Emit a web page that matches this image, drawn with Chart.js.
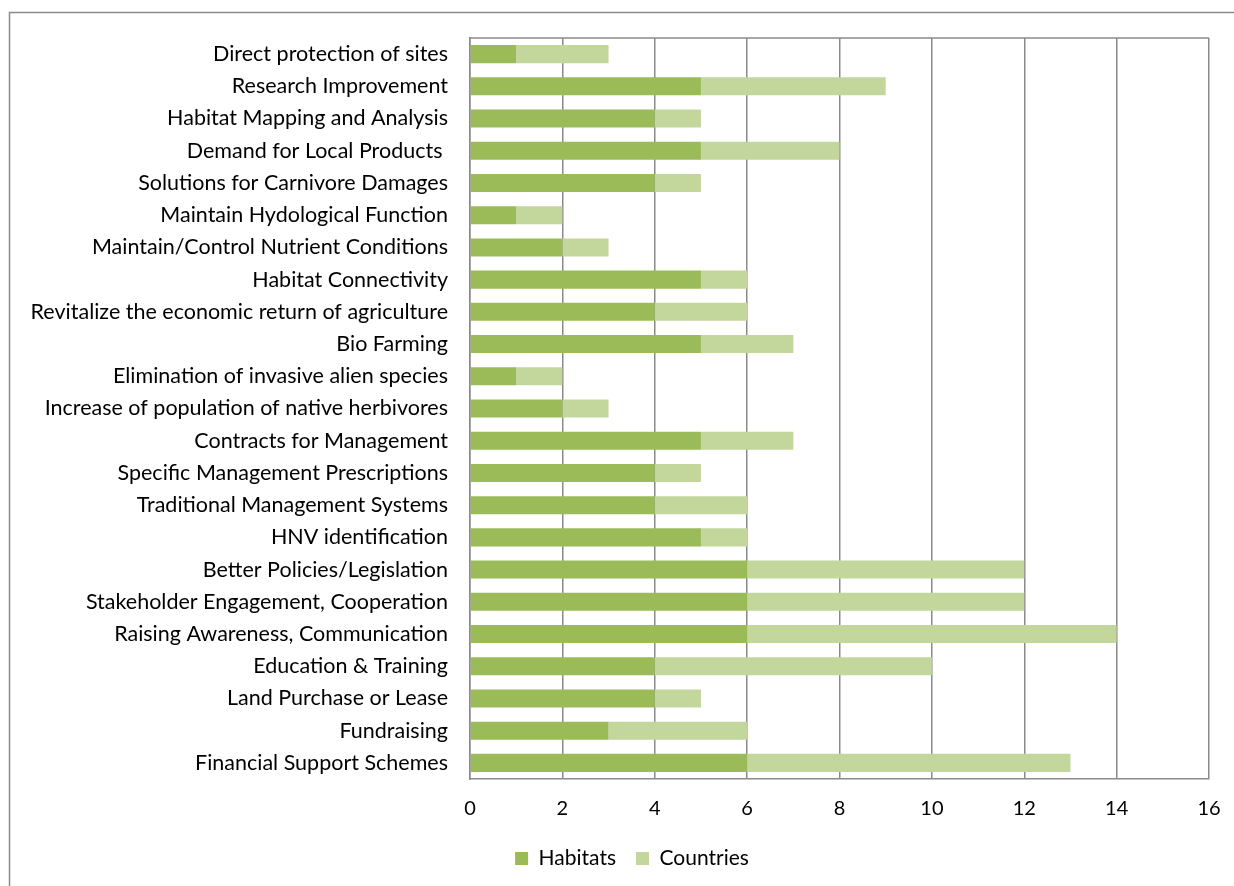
<!DOCTYPE html>
<html>
<head>
<meta charset="utf-8">
<script src="https://cdn.jsdelivr.net/npm/chart.js@4.4.0/dist/chart.umd.min.js"></script>
<style>
  html, body { margin: 0; padding: 0; background: #ffffff; }
  #wrap { position: relative; width: 1234px; height: 886px; }
  canvas { display: block; }
</style>
</head>
<body>
<div id="wrap"><canvas id="c" width="1234" height="886"></canvas></div>
<script>
// Measures (category axis, top to bottom)
const categories = [
  'Direct protection of sites',
  'Research Improvement',
  'Habitat Mapping and Analysis',
  'Demand for Local Products ',
  'Solutions for Carnivore Damages',
  'Maintain Hydological Function',
  'Maintain/Control Nutrient Conditions',
  'Habitat Connectivity',
  'Revitalize the economic return of agriculture',
  'Bio Farming',
  'Elimination of invasive alien species',
  'Increase of population of native herbivores',
  'Contracts for Management',
  'Specific Management Prescriptions',
  'Traditional Management Systems',
  'HNV identification',
  'Better Policies/Legislation',
  'Stakeholder Engagement, Cooperation',
  'Raising Awareness, Communication',
  'Education & Training',
  'Land Purchase or Lease',
  'Fundraising',
  'Financial Support Schemes'
];

// Number of habitats addressing each measure
const habitats = [1, 5, 4, 5, 4, 1, 2, 5, 4, 5, 1, 2, 5, 4, 4, 5, 6, 6, 6, 4, 4, 3, 6];

// Number of countries applying each measure (stacked after habitats)
const countries = [2, 4, 1, 3, 1, 1, 1, 1, 2, 2, 1, 1, 2, 1, 2, 1, 6, 6, 8, 6, 1, 3, 7];

// Value axis ticks
const xMin = 0;
const xMax = 16;
const xStep = 2;

const seriesNames = ['Habitats', 'Countries'];
const seriesColors = ['#9BBB59', '#C3D69B'];

const FONT = 'Lato, "Open Sans", sans-serif';
const GRID = '#8a8a8a';

// Outer frame of the chart and top edge of the plot area
const framePlugin = {
  id: 'frames',
  afterLayout(chart) {
    // legend sits a little right of the canvas centre
    const dx = 632 - (chart.legend.left + chart.legend.right) / 2;
    chart.legend.left += dx;
    chart.legend.right += dx;
  },
  beforeDraw(chart) {
    const ctx = chart.ctx;
    ctx.save();
    ctx.strokeStyle = '#8a8a8a';
    ctx.lineWidth = 1.5;
    ctx.beginPath();
    ctx.moveTo(9.5, 900);
    ctx.lineTo(9.5, 12.5);
    ctx.lineTo(1240, 12.5);
    ctx.stroke();
    ctx.restore();
  },
  afterDatasetsDraw(chart) {
    const a = chart.chartArea;
    const ctx = chart.ctx;
    ctx.save();
    ctx.strokeStyle = GRID;
    ctx.lineWidth = 1.5;
    ctx.beginPath();
    ctx.moveTo(a.left, a.top);
    ctx.lineTo(a.right, a.top);
    ctx.stroke();
    ctx.restore();
  }
};

new Chart(document.getElementById('c'), {
  type: 'bar',
  data: {
    labels: categories,
    datasets: [
      { label: seriesNames[0], data: habitats, backgroundColor: seriesColors[0] },
      { label: seriesNames[1], data: countries, backgroundColor: seriesColors[1] }
    ]
  },
  plugins: [framePlugin],
  options: {
    indexAxis: 'y',
    responsive: false,
    animation: false,
    events: [],
    layout: { padding: { top: 38, right: 25, left: 0, bottom: 7 } },
    datasets: {
      bar: { barPercentage: 0.56, categoryPercentage: 1.0 }
    },
    scales: {
      x: {
        stacked: true,
        min: xMin,
        max: xMax,
        ticks: {
          stepSize: xStep,
          color: '#000000',
          font: { family: FONT, size: 20 },
          padding: 18
        },
        grid: { color: GRID, lineWidth: 1.5, drawTicks: false },
        border: { color: GRID, width: 1.5 },
        afterFit(scale) {
          scale.height = 49;
          scale.paddingLeft = 0;
          scale.paddingRight = 0;
        }
      },
      y: {
        stacked: true,
        ticks: {
          color: '#000000',
          font: { family: FONT, size: 21.5 },
          padding: 22,
          autoSkip: false
        },
        grid: { display: false, drawTicks: false },
        border: { color: GRID, width: 1.5 },
        afterFit(scale) { scale.width = 470; }
      }
    },
    plugins: {
      legend: {
        position: 'bottom',
        labels: {
          color: '#000000',
          font: { family: FONT, size: 21 },
          boxWidth: 13,
          boxHeight: 13,
          padding: 20
        }
      },
      tooltip: { enabled: false }
    }
  }
});
</script>
</body>
</html>
